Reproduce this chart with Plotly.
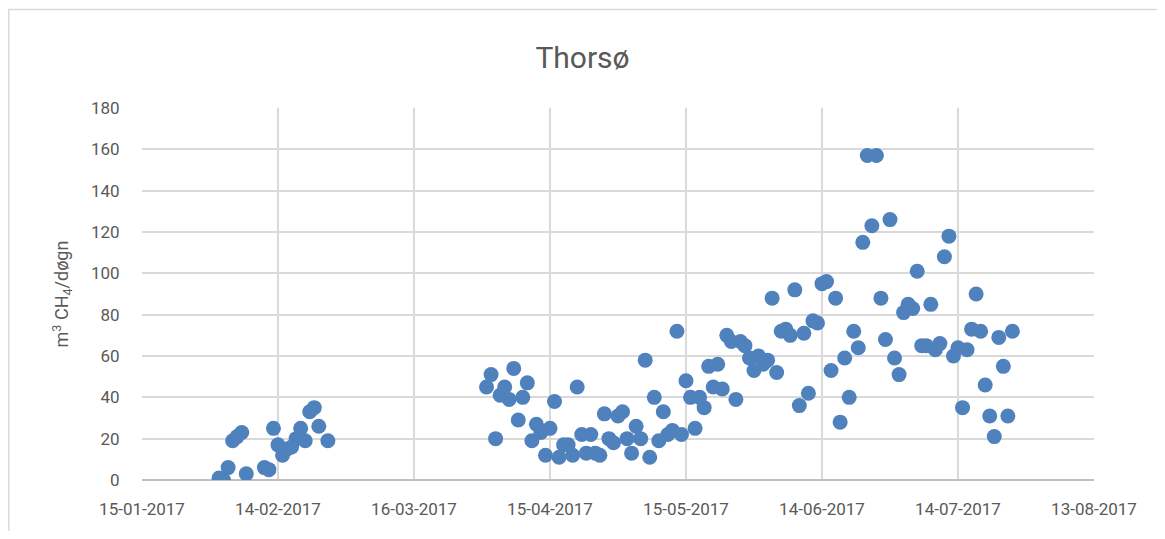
import pandas as pd
import plotly.graph_objects as go

# winter measurements (Feb 2017)
feb_dates = ['2017-02-01', '2017-02-02', '2017-02-03', '2017-02-04', '2017-02-05',
             '2017-02-06', '2017-02-07', '2017-02-11', '2017-02-12', '2017-02-13',
             '2017-02-14', '2017-02-15', '2017-02-16', '2017-02-17', '2017-02-18',
             '2017-02-19', '2017-02-20', '2017-02-21', '2017-02-22', '2017-02-23',
             '2017-02-25']
feb_values = [1, 0, 6, 19, 21, 23, 3, 6, 5, 25, 17, 12, 15, 16, 20, 25, 19, 33, 35, 26, 19]

# daily measurements from 1 April 2017
spring_start = '2017-04-01'
spring_values = [45, 51, 20, 41, 45, 39, 54, 29, 40, 47,
                 19, 27, 23, 12, 25, 38, 11, 17, 17, 12,
                 45, 22, 13, 22, 13, 12, 32, 20, 18, 31,
                 33, 20, 13, 26, 20, 58, 11, 40, 19, 33,
                 22, 24, 72, 22, 48, 40, 25, 40, 35, 55,
                 45, 56, 44, 70, 67, 39, 67, 65, 59, 53,
                 60, 56, 58, 88, 52, 72, 73, 70, 92, 36,
                 71, 42, 77, 76, 95, 96, 53, 88, 28, 59,
                 40, 72, 64, 115, 157, 123, 157, 88, 68, 126,
                 59, 51, 81, 85, 83, 101, 65, 65, 85, 63,
                 66, 108, 118, 60, 64, 35, 63, 73, 90, 72,
                 46, 31, 21, 69, 55, 31, 72]

tick_dates = pd.date_range('2017-01-15', '2017-08-13', freq='30D')

spring_dates = pd.date_range(spring_start, periods=len(spring_values), freq='D')
x = list(pd.to_datetime(feb_dates)) + list(spring_dates)
y = feb_values + spring_values

font = 'Roboto'
grey = '#595959'

fig = go.Figure(go.Scatter(
    x=x, y=y, mode='markers',
    marker=dict(size=15, color='#4F81BD'),
    showlegend=False))

# the page adds an 8px body margin, so the figure is a bit smaller
fig.update_layout(
    width=1149, height=523,
    margin=dict(l=134, r=63, t=100, b=49),
    paper_bgcolor='white', plot_bgcolor='white',
    title=dict(text='Thorsø', x=0.5, xanchor='center', y=0.905, yanchor='middle',
               font=dict(family=font, size=30, color=grey)),
    font=dict(family=font, color=grey),
    xaxis=dict(type='date', range=['2017-01-15', '2017-08-13'],
               tickvals=tick_dates, tickformat='%d-%m-%Y',
               tickfont=dict(size=17, color=grey),
               showgrid=True, gridcolor='#d9d9d9', gridwidth=1.5,
               zeroline=False, showline=False, ticks='outside', ticklen=14,
               tickcolor='rgba(0,0,0,0)'),
    yaxis=dict(range=[0, 180], dtick=20,
               tickfont=dict(size=17, color=grey),
               showgrid=True, gridcolor='#d9d9d9', gridwidth=1.5,
               zeroline=True, zerolinecolor='#bfbfbf', zerolinewidth=1.5,
               showline=False, ticks='outside', ticklen=18, tickcolor='rgba(0,0,0,0)',
               title=dict(text='m<sup>3</sup> CH<sub>4</sub>/døgn',
                          font=dict(size=18, color=grey), standoff=17)),
)

# outer chart frame
fig.add_shape(type='rect', xref='paper', yref='paper',
              x0=-0.14, x1=1.072, y0=-0.145, y1=1.265,
              line=dict(color='#d9d9d9', width=1.5), layer='below')

fig.write_html("out.html")
